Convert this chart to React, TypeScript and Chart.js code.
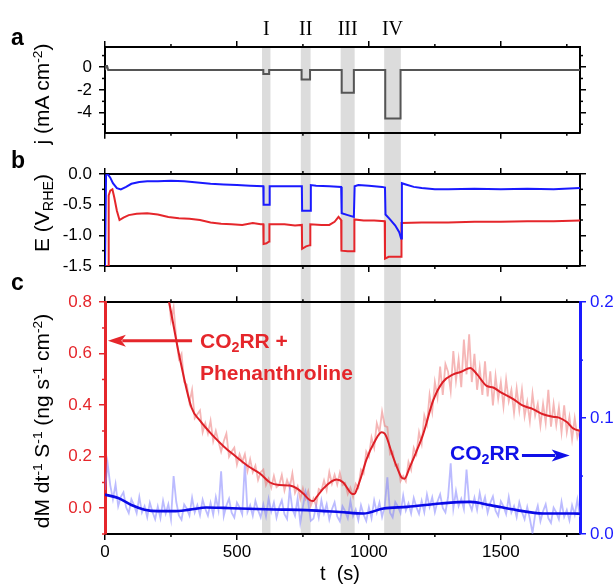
import React, { useEffect, useRef } from "react";
import { Chart, registerables } from "chart.js";
Chart.register(...registerables);

const SANS = "'Liberation Sans', Arial, sans-serif";
const SERIF = "'Liberation Serif', 'Times New Roman', serif";

const RED = "#e5262b";
const BLUE = "#1a1aff";
const BAND_COLOR = "#dcdcdc";

// time axis
const X_MIN = 0;
const X_MAX = 1800;
const X_TICKS = [0, 250, 500, 750, 1000, 1250, 1500, 1750];

// axis ticks
const J_TICKS = [-5, -4, -3, -2, -1, 0, 1];
const E_TICKS = [-1.5, -1.25, -1, -0.75, -0.5, -0.25, 0];
const M_TICKS = [-0.1, 0, 0.1, 0.2, 0.3, 0.4, 0.5, 0.6, 0.7, 0.8];
const M2_TICKS = [0, 0.05, 0.1, 0.15, 0.2];

// grey bands (s)
const BAND_START = [595, 742, 893, 1058];
const BAND_END = [627, 779, 946, 1121];
const BAND_LABELS = ["I", "II", "III", "IV"];

// panel a : current density (mA cm-2)
const J_T = [0, 4, 8, 12, 600, 600, 622, 622, 745, 745, 777, 777, 897, 897, 943, 943, 1062, 1062, 1120, 1120, 1800];
const J_V = [-0.25, 0.1, 0.1, -0.25, -0.25, -0.6, -0.6, -0.25, -0.25, -1.1, -1.1, -0.25, -0.25, -2.25, -2.25, -0.25, -0.25, -4.5, -4.5, -0.25, -0.25];

// panel b : potential (V_RHE), CO2RR (blue)
const E_BLUE_T = [0, 3, 4, 10, 20, 30, 45, 60, 80, 100,
  130, 160, 200, 250, 300, 350, 400, 450, 500, 550,
  600, 601, 623, 624, 700, 746, 747, 777, 780, 800,
  850, 895, 897, 920, 943, 946, 960, 1000, 1050, 1061,
  1063, 1080, 1100, 1115, 1122, 1125, 1140, 1170, 1200, 1250,
  1300, 1400, 1500, 1600, 1700, 1800];
const E_BLUE_V = [-1.5, -1.5, -0.02, 0, -0.06, -0.15, -0.23, -0.25, -0.21, -0.16,
  -0.13, -0.12, -0.12, -0.11, -0.12, -0.14, -0.16, -0.17, -0.18, -0.19,
  -0.2, -0.5, -0.5, -0.2, -0.2, -0.2, -0.6, -0.6, -0.18, -0.19,
  -0.2, -0.21, -0.64, -0.67, -0.7, -0.2, -0.18, -0.19, -0.21, -0.22,
  -0.66, -0.74, -0.84, -0.95, -1.05, -0.15, -0.17, -0.21, -0.23, -0.25,
  -0.25, -0.24, -0.25, -0.24, -0.25, -0.23];

// panel b : potential, CO2RR + phenanthroline (red)
const E_RED_T = [0, 12, 14, 20, 28, 35, 45, 55, 70, 90,
  120, 160, 200, 240, 280, 320, 360, 400, 440, 480,
  520, 560, 590, 600, 601, 612, 622, 623, 680, 720,
  746, 747, 762, 777, 778, 820, 850, 870, 885, 895,
  896, 920, 944, 945, 980, 1020, 1060, 1061, 1075, 1100,
  1122, 1123, 1124, 1200, 1300, 1400, 1500, 1600, 1700, 1800];
const E_RED_V = [-1.5, -1.5, -0.35, -0.27, -0.25, -0.38, -0.6, -0.75, -0.71, -0.67,
  -0.65, -0.64, -0.66, -0.7, -0.72, -0.73, -0.75, -0.79, -0.81, -0.82,
  -0.83, -0.8, -0.82, -0.82, -1.14, -1.13, -1.1, -0.82, -0.82, -0.84,
  -0.83, -1.22, -1.18, -1.16, -0.82, -0.83, -0.83, -0.78, -0.7, -0.75,
  -1.25, -1.26, -1.26, -0.74, -0.76, -0.76, -0.77, -1.38, -1.35, -1.35,
  -1.35, -1.05, -0.8, -0.79, -0.79, -0.78, -0.78, -0.77, -0.77, -0.76];

// panel c : raw mass rate, CO2RR + phenanthroline (left axis), one reading every 10 s from 240 s
const RAW_DT = 10;
const RED_RAW_T0 = 240;
const RED_RAW = [
  0.84, 0.73, 0.78, 0.66, 0.58, 0.60, 0.49, 0.48, 0.41, 0.46,
  0.35, 0.365, 0.38, 0.295, 0.33, 0.29, 0.34, 0.26, 0.30, 0.26,
  0.22, 0.26, 0.29, 0.20, 0.22, 0.235, 0.17, 0.21, 0.18, 0.21,
  0.145, 0.19, 0.14, 0.165, 0.11, 0.14, 0.15, 0.09, 0.115, 0.08,
  0.125, 0.082, 0.09, 0.129, 0.069, 0.109, 0.079, 0.135, 0.06, 0.085,
  0.036, 0.077, 0.037, 0.067, 0.01, 0.038, 0.01, 0.075, 0.068, 0.108,
  0.07, 0.14, 0.095, 0.13, 0.092, 0.137, 0.09, 0.098, 0.055, 0.08,
  0.045, 0.095, 0.08, 0.15, 0.135, 0.22, 0.20, 0.275, 0.235, 0.33,
  0.295, 0.375, 0.32, 0.315, 0.21, 0.22, 0.165, 0.17, 0.105, 0.125,
  0.105, 0.18, 0.15, 0.235, 0.21, 0.295, 0.25, 0.36, 0.325, 0.44,
  0.375, 0.49, 0.43, 0.55, 0.44, 0.56, 0.53, 0.455, 0.61, 0.495,
  0.578, 0.47, 0.655, 0.52, 0.675, 0.49, 0.60, 0.46, 0.545, 0.44,
  0.57, 0.434, 0.532, 0.399, 0.513, 0.425, 0.49, 0.395, 0.50, 0.415,
  0.46, 0.37, 0.465, 0.38, 0.46, 0.357, 0.413, 0.338, 0.445, 0.36,
  0.405, 0.32, 0.405, 0.332, 0.46, 0.317, 0.405, 0.323, 0.392, 0.295,
  0.40, 0.295, 0.355, 0.268, 0.35, 0.275, 0.31];

// panel c : raw mass rate, CO2RR (right axis), one reading every 10 s from 0 s
const BLUE_RAW_T0 = 0;
const BLUE_RAW = [
  0.038, 0.061, 0.042, 0.030, 0.043, 0.024, 0.032, 0.036, 0.023, 0.018,
  0.030, 0.025, 0.018, 0.032, 0.0185, 0.024, 0.0145, 0.027, 0.019, 0.0128,
  0.0237, 0.0137, 0.0287, 0.0177, 0.0257, 0.0127, 0.050, 0.0278, 0.016, 0.0123,
  0.0255, 0.0218, 0.016, 0.0313, 0.0186, 0.025, 0.0162, 0.0295, 0.0218, 0.0159,
  0.0269, 0.0168, 0.0318, 0.0207, 0.054, 0.0155, 0.0245, 0.0304, 0.0183, 0.0142,
  0.027, 0.023, 0.017, 0.061, 0.0189, 0.0248, 0.0157, 0.0286, 0.0206, 0.0145,
  0.0254, 0.0154, 0.0303, 0.0192, 0.0272, 0.0141, 0.0231, 0.029, 0.017, 0.0129,
  0.0389, 0.0218, 0.0158, 0.0307, 0.0097, 0.0236, 0.0366, 0.0275, 0.0114, 0.0133,
  0.0242, 0.0141, 0.029, 0.0179, 0.0257, 0.0126, 0.0214, 0.0273, 0.0151, 0.011,
  0.0239, 0.0197, 0.0136, 0.0284, 0.0153, 0.0211, 0.012, 0.0248, 0.0167, 0.0113,
  0.023, 0.0135, 0.029, 0.0186, 0.0271, 0.0147, 0.024, 0.049, 0.0183, 0.0144,
  0.0276, 0.0238, 0.018, 0.0332, 0.0203, 0.0265, 0.0177, 0.031, 0.0232, 0.0174,
  0.0287, 0.0189, 0.0341, 0.0234, 0.0316, 0.0188, 0.0281, 0.0343, 0.0224, 0.0186,
  0.0317, 0.061, 0.022, 0.0371, 0.0242, 0.0304, 0.0215, 0.0555, 0.0267, 0.0206,
  0.0312, 0.0208, 0.0354, 0.024, 0.0317, 0.0183, 0.0269, 0.0325, 0.0201, 0.0156,
  0.0282, 0.0238, 0.0173, 0.0319, 0.0185, 0.024, 0.0146, 0.0273, 0.019, 0.0127,
  0.0234, 0.0131, 0.001, 0.0166, 0.0243, 0.011, 0.0197, 0.0257, 0.0137, 0.0097,
  0.0227, 0.0187, 0.0127, 0.0277, 0.0147, 0.0207, 0.0117, 0.0247, 0.0167, 0.0297,
  0.0147];

// panel c : smoothed curves
const RED_SMOOTH_T = [200, 243, 280, 328, 360, 407, 450, 497, 540, 587,
  625, 660, 700, 730, 751, 777, 790, 802, 827, 860,
  877, 903, 920, 934, 945, 953, 970, 991, 1020, 1048,
  1060, 1067, 1092, 1110, 1124, 1135, 1155, 1180, 1206, 1244,
  1280, 1320, 1350, 1384, 1410, 1446, 1471, 1500, 1547, 1580,
  1622, 1660, 1698, 1720, 1750, 1774, 1800];
const RED_SMOOTH_V = [1.0, 0.8, 0.6, 0.39, 0.34, 0.284, 0.24, 0.2, 0.165, 0.135,
  0.1, 0.09, 0.088, 0.075, 0.057, 0.031, 0.028, 0.044, 0.076, 0.105,
  0.112, 0.1, 0.075, 0.057, 0.055, 0.07, 0.12, 0.19, 0.255, 0.295,
  0.29, 0.276, 0.198, 0.15, 0.119, 0.115, 0.16, 0.22, 0.289, 0.42,
  0.49, 0.52, 0.53, 0.545, 0.52, 0.475, 0.469, 0.45, 0.424, 0.40,
  0.385, 0.365, 0.355, 0.352, 0.335, 0.31, 0.30];
const BLUE_SMOOTH_T = [0, 50, 100, 150, 200, 260, 320, 385, 450, 511, 640, 765, 890, 980, 1055, 1145, 1270, 1385, 1460, 1560, 1660, 1775, 1800];
const BLUE_SMOOTH_V = [0.034, 0.031, 0.025, 0.021, 0.0197, 0.0197, 0.021, 0.0229, 0.0225, 0.022, 0.0212, 0.0206, 0.019, 0.0177, 0.022, 0.0234, 0.0263, 0.0277, 0.0249, 0.0206, 0.0177, 0.0177, 0.0175];

// annotation arrows (data coordinates)
const RED_ARROW = { from: 330, to: 11, y: 0.65 };
const BLUE_ARROW = { from: 1580, to: 1761, y: 0.0678 };

const pts = (t: number[], v: number[]) => t.map((x, i) => ({ x, y: v[i] }));
const rawPts = (t0: number, dt: number, v: number[]) => v.map((y, i) => ({ x: t0 + i * dt, y }));

const isMult = (v: number, m: number) => Math.abs(v / m - Math.round(v / m)) < 1e-6;
const TICK_FONT = 17;
const MAJOR_LEN = 6;
const MINOR_LEN = 3;

function xScale(position: string, size: number, labels: boolean) {
  return {
    type: "linear",
    position,
    min: X_MIN,
    max: X_MAX,
    majorStep: 500,
    tickCol: "#000",
    afterFit: (s: any) => { s.height = size; },
    afterBuildTicks: (s: any) => { s.ticks = X_TICKS.map((value) => ({ value })); },
    border: { display: true, color: "#000", width: 2 },
    grid: {
      drawOnChartArea: false, drawTicks: true, tickLength: MAJOR_LEN, color: "#000", lineWidth: 1.5,
      tickColor: (c: any) => (c.tick && isMult(c.tick.value, 500) ? "#000" : "rgba(0,0,0,0)"),
    },
    ticks: {
      autoSkip: false, maxRotation: 0, minRotation: 0,
      padding: 2, color: "#000", font: { family: SANS, size: TICK_FONT },
      callback: (v: number) => (labels && isMult(v, 500) ? String(Math.round(v)) : ""),
    },
  };
}

function yScale(position: string, size: number, min: number, max: number, tickVals: number[], major: number,
  decimals: number, labels: boolean, color: string, borderWidth: number) {
  return {
    type: "linear",
    position,
    min,
    max,
    majorStep: major,
    tickCol: color,
    afterFit: (s: any) => { s.width = size; },
    afterBuildTicks: (s: any) => { s.ticks = tickVals.map((value) => ({ value })); },
    border: { display: true, color, width: borderWidth },
    grid: {
      drawOnChartArea: false, drawTicks: true, tickLength: MAJOR_LEN, color, lineWidth: 1.5,
      tickColor: (c: any) => (c.tick && isMult(c.tick.value, major) ? color : "rgba(0,0,0,0)"),
    },
    ticks: {
      autoSkip: false,
      padding: position === "left" ? 7 : 4, color, font: { family: SANS, size: TICK_FONT },
      callback: (v: number) => (labels && isMult(v, major) ? (Math.abs(v) < 1e-9 ? (0).toFixed(decimals) : v.toFixed(decimals)) : ""),
    },
  };
}

// short minor tick marks (outward) for every axis
const minorTickPlugin = {
  id: "minorTicks",
  afterDraw(chart: any) {
    const { ctx } = chart;
    ctx.save();
    ctx.lineWidth = 1.5;
    Object.values(chart.scales).forEach((s: any) => {
      const major = s.options.majorStep;
      if (!major) return;
      ctx.strokeStyle = s.options.tickCol || "#000";
      s.ticks.forEach((t: any) => {
        if (isMult(t.value, major)) return;
        const p = s.getPixelForValue(t.value);
        ctx.beginPath();
        if (s.position === "left") { ctx.moveTo(s.right, p); ctx.lineTo(s.right - MINOR_LEN, p); }
        else if (s.position === "right") { ctx.moveTo(s.left, p); ctx.lineTo(s.left + MINOR_LEN, p); }
        else if (s.position === "top") { ctx.moveTo(p, s.bottom); ctx.lineTo(p, s.bottom - MINOR_LEN); }
        else { ctx.moveTo(p, s.top); ctx.lineTo(p, s.top + MINOR_LEN); }
        ctx.stroke();
      });
    });
    ctx.restore();
  },
};

const bandPlugin = {
  id: "bands",
  beforeDraw(chart: any, _args: any, opts: any) {
    const { ctx, chartArea, scales } = chart;
    const x = scales.x;
    const top = opts.fromTop ? 0 : chartArea.top;
    const bottom = opts.toBottom ? chart.height : chartArea.bottom;
    ctx.save();
    ctx.fillStyle = BAND_COLOR;
    BAND_START.forEach((s, i) => {
      const x0 = x.getPixelForValue(s);
      const x1 = x.getPixelForValue(BAND_END[i]);
      ctx.fillRect(x0, top, x1 - x0, bottom - top);
    });
    ctx.restore();
  },
};

const romanPlugin = {
  id: "roman",
  afterDraw(chart: any) {
    const { ctx, scales } = chart;
    ctx.save();
    ctx.fillStyle = "#000";
    ctx.font = `20px ${SERIF}`;
    ctx.textAlign = "center";
    ctx.textBaseline = "alphabetic";
    BAND_START.forEach((s, i) => {
      const cx = scales.x.getPixelForValue((s + BAND_END[i]) / 2);
      ctx.fillText(BAND_LABELS[i], cx, 35);
    });
    ctx.restore();
  },
};

function drawArrow(ctx: any, x0: number, y: number, x1: number, color: string) {
  const dir = Math.sign(x1 - x0);
  const headLen = 18;
  const half = 6;
  ctx.save();
  ctx.strokeStyle = color;
  ctx.fillStyle = color;
  ctx.lineWidth = 3;
  ctx.beginPath();
  ctx.moveTo(x0, y);
  ctx.lineTo(x1 - dir * headLen * 0.8, y);
  ctx.stroke();
  ctx.beginPath();
  ctx.moveTo(x1, y);
  ctx.lineTo(x1 - dir * headLen, y - half);
  ctx.lineTo(x1 - dir * headLen * 0.75, y);
  ctx.lineTo(x1 - dir * headLen, y + half);
  ctx.closePath();
  ctx.fill();
  ctx.restore();
}

const arrowPlugin = {
  id: "arrows",
  afterDatasetsDraw(chart: any) {
    const { ctx, scales } = chart;
    drawArrow(ctx, scales.x.getPixelForValue(RED_ARROW.from), scales.y.getPixelForValue(RED_ARROW.y),
      scales.x.getPixelForValue(RED_ARROW.to), RED);
    drawArrow(ctx, scales.x.getPixelForValue(BLUE_ARROW.from), scales.y2.getPixelForValue(BLUE_ARROW.y),
      scales.x.getPixelForValue(BLUE_ARROW.to), "#1010e8");
  },
};

const LEFT_W = 105;
const RIGHT_W = 34;

const baseOpts = {
  responsive: false,
  animation: false,
  devicePixelRatio: 1,
  layout: { padding: 0 },
  events: [],
  elements: { point: { radius: 0 } },
};

function configA() {
  return {
    type: "line",
    data: {
      datasets: [
        { data: pts(J_T, J_V), borderColor: "#555", borderWidth: 2, tension: 0 },
      ],
    },
    options: {
      ...baseOpts,
      plugins: { legend: { display: false }, tooltip: { enabled: false }, bands: { fromTop: false, toBottom: true } },
      scales: {
        x: xScale("bottom", 13, false),
        x2: xScale("top", 47, false),
        y: yScale("left", LEFT_W, -5.75, 1.75, J_TICKS, 2, 0, true, "#000", 2),
        y2: yScale("right", RIGHT_W, -5.75, 1.75, J_TICKS, 2, 0, false, "#000", 2),
      },
    },
    plugins: [bandPlugin, romanPlugin, minorTickPlugin],
  };
}

function configB() {
  return {
    type: "line",
    data: {
      datasets: [
        { data: pts(E_BLUE_T, E_BLUE_V), borderColor: BLUE, borderWidth: 2, tension: 0, order: 0 },
        { data: pts(E_RED_T, E_RED_V), borderColor: RED, borderWidth: 2, tension: 0, order: 1 },
      ],
    },
    options: {
      ...baseOpts,
      plugins: { legend: { display: false }, tooltip: { enabled: false }, bands: { fromTop: true, toBottom: true } },
      scales: {
        x: xScale("bottom", 19, false),
        x2: xScale("top", 24, false),
        y: yScale("left", LEFT_W, -1.5, 0, E_TICKS, 0.5, 1, true, "#000", 2),
        y2: yScale("right", RIGHT_W, -1.5, 0, E_TICKS, 0.5, 1, false, "#000", 2),
      },
    },
    plugins: [bandPlugin, minorTickPlugin],
  };
}

function configC() {
  return {
    type: "line",
    data: {
      datasets: [
        { data: pts(BLUE_SMOOTH_T, BLUE_SMOOTH_V), yAxisID: "y2", borderColor: "#0a0ae6", borderWidth: 2.6, cubicInterpolationMode: "monotone", order: 0 },
        { data: pts(RED_SMOOTH_T, RED_SMOOTH_V), yAxisID: "y", borderColor: "#dd1f26", borderWidth: 2, cubicInterpolationMode: "monotone", order: 1 },
        { data: rawPts(BLUE_RAW_T0, RAW_DT, BLUE_RAW), yAxisID: "y2", borderColor: "rgba(120,120,255,0.5)", borderWidth: 1.8, tension: 0, order: 2 },
        { data: rawPts(RED_RAW_T0, RAW_DT, RED_RAW), yAxisID: "y", borderColor: "rgba(236,110,110,0.5)", borderWidth: 1.8, tension: 0, order: 3 },
      ],
    },
    options: {
      ...baseOpts,
      plugins: { legend: { display: false }, tooltip: { enabled: false }, bands: { fromTop: true, toBottom: false } },
      scales: {
        x: xScale("bottom", 54, true),
        x2: xScale("top", 16, false),
        y: yScale("left", LEFT_W, -0.1, 0.8, M_TICKS, 0.2, 1, true, RED, 3),
        y2: yScale("right", RIGHT_W, 0, 0.2, M2_TICKS, 0.1, 1, true, BLUE, 3),
      },
    },
    plugins: [bandPlugin, arrowPlugin, minorTickPlugin],
  };
}

const Sup = ({ children }: any) => (
  <span style={{ fontSize: "0.65em", position: "relative", top: "-0.55em" }}>{children}</span>
);
const Sub = ({ children }: any) => (
  <span style={{ fontSize: "0.68em", position: "relative", top: "0.3em" }}>{children}</span>
);

const rotTitle = (cx: number, cy: number): React.CSSProperties => ({
  position: "absolute",
  left: cx,
  top: cy,
  transform: "translate(-50%, -50%) rotate(-90deg)",
  whiteSpace: "nowrap",
  font: `21px ${SANS}`,
  lineHeight: 1,
  color: "#000",
});

const letter = (left: number, top: number): React.CSSProperties => ({
  position: "absolute", left, top, font: `bold 23px ${SANS}`, lineHeight: 1, color: "#000",
});

const note = (left: number, top: number, color: string): React.CSSProperties => ({
  position: "absolute", left, top, font: `bold 21px ${SANS}`, lineHeight: 1, color, whiteSpace: "nowrap",
});

export default function App() {
  const refA = useRef<HTMLCanvasElement>(null);
  const refB = useRef<HTMLCanvasElement>(null);
  const refC = useRef<HTMLCanvasElement>(null);

  useEffect(() => {
    const charts = [
      new Chart(refA.current as any, configA() as any),
      new Chart(refB.current as any, configB() as any),
      new Chart(refC.current as any, configC() as any),
    ];
    return () => charts.forEach((c) => c.destroy());
  }, []);

  return (
    <div style={{ position: "absolute", left: 0, top: 0, width: 614, height: 588, background: "#fff", overflow: "hidden", fontFamily: SANS }}>
      <canvas ref={refA} width={614} height={150} style={{ position: "absolute", left: 0, top: 0 }} />
      <canvas ref={refB} width={614} height={135} style={{ position: "absolute", left: 0, top: 150 }} />
      <canvas ref={refC} width={614} height={303} style={{ position: "absolute", left: 0, top: 285 }} />

      <div style={letter(11, 26)}>a</div>
      <div style={letter(11, 149)}>b</div>
      <div style={letter(11, 271)}>c</div>

      <div style={rotTitle(41, 94)}>j (mA cm<Sup>-2</Sup>)</div>
      <div style={rotTitle(41, 213)}>E (V<Sub>RHE</Sub>)</div>
      <div style={rotTitle(41, 421)}>dM dt<Sup>-1</Sup> S<Sup>-1</Sup> (ng s<Sup>-1</Sup> cm<Sup>-2</Sup>)</div>

      <div style={note(200, 330, RED)}>CO<Sub>2</Sub>RR +</div>
      <div style={note(200, 362, RED)}>Phenanthroline</div>
      <div style={note(450, 442, "#1010e8")}>CO<Sub>2</Sub>RR</div>

      <div style={{ position: "absolute", left: 340, top: 563, transform: "translateX(-50%)", font: `20px ${SANS}`, lineHeight: 1, color: "#000", whiteSpace: "pre" }}>
        t  (s)
      </div>
    </div>
  );
}
